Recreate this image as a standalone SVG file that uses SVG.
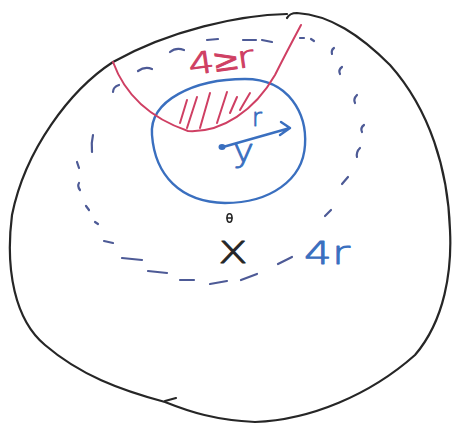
<svg xmlns="http://www.w3.org/2000/svg" width="452" height="426" viewBox="0 0 452 426">
<style>
  .ink{fill:none;stroke-linecap:round;stroke-linejoin:round}
  .black{stroke:#262626;stroke-width:2.2}
  .blue{stroke:#3a6fbf;stroke-width:2.4}
  .red{stroke:#cf3f63;stroke-width:2}
  .dash{stroke:#4d5a96;stroke-width:2.2}
  .lbl{font-family:"DejaVu Sans","Liberation Sans",Arial,sans-serif;font-weight:200;stroke-width:0.9;stroke-linejoin:round}
</style>
<rect width="452" height="426" fill="#ffffff"/>
<g id="outer-region">
  <path class="ink black" d="M287,14 C240,15 170,30 113,62 C70,90 25,150 12,215 C5,270 15,320 45,345 C80,375 120,390 165,402 C190,412 215,420 255,422 C310,420 370,395 415,355 C445,320 452,270 450,230 C448,170 430,110 390,65 C360,35 330,15 297,13 C292,13 289,14 287,18"/>
  <path class="ink black" d="M165,401 L176,398"/>
</g>
<g id="ball-4r">
  <path class="ink dash" d="M113,92 Q113,87 119,85 M138,71 Q145,66 152,69 M170,52 Q176,47 184,50 M207,40 L218,39 M243,40 L256,40 M262,40 L272,42 M300,38 L304,38 M311,39 L314,41 M334,48 Q331,50 332,54 M342,67 Q338,70 340,74 M357,95 Q353,99 355,103 M364,125 Q360,128 362,132 M360,148 Q356,152 357,157 M348,177 L342,184 M331,210 L325,216 M292,257 L278,264 M257,274 L241,280 M227,281 L210,284 M194,280 L180,280 M167,273 L148,271 M142,260 L122,258 M113,243 L104,241 M98,224 L95,222 M89,210 L86,206 M80,190 Q77,186 79,183 M79,168 L77,162 M92,152 Q91,143 93,135"/>
  <text class="lbl" x="304" y="264" font-size="32" fill="#3a6fbf" stroke="#3a6fbf" textLength="46" lengthAdjust="spacingAndGlyphs">4r</text>
</g>
<g id="ball-r">
  <path class="ink blue" d="M152,135 C149,100 195,79 245,79 C290,79 307,115 305,145 C303,180 270,203 225,203 C180,202 155,175 152,135 Z"/>
  <ellipse cx="222" cy="147" rx="3.5" ry="3" fill="#3a6fbf"/>
  <text class="lbl" x="233" y="162" font-size="32" fill="#3a6fbf" stroke="#3a6fbf" textLength="21" lengthAdjust="spacingAndGlyphs">y</text>
</g>
<g id="halfspace">
  <path class="ink red" d="M113,62 C125,95 150,118 188,131 C222,133 255,110 275,75 C285,55 293,40 301,25"/>
  <path class="ink red" d="M187,100 L180,123 M197,97 L187,128 M210,93 L200,128 M227,92 L217,123 M237,97 L230,113 M250,93 L240,110"/>
  <text class="lbl" x="188" y="71" font-size="30" fill="#cf3f63" stroke="#cf3f63" transform="rotate(-8 220 60)" textLength="66" lengthAdjust="spacingAndGlyphs">4≥r</text>
</g>
<g id="point-x">
  <ellipse cx="229.5" cy="218" rx="2.5" ry="4.2" class="ink" stroke="#262626" stroke-width="1.6"/>
  <path class="ink" stroke="#262626" stroke-width="1.4" d="M227,218 L232,218"/>
  <text class="lbl" x="218" y="263" font-size="40" fill="#262626" stroke="#262626" textLength="30" lengthAdjust="spacingAndGlyphs">x</text>
</g>
<g id="connectors">
  <path class="ink blue" d="M223,147 L290,128 M281,122 L290,128 L280,135"/>
  <text class="lbl" x="252" y="126" font-size="24" fill="#3a6fbf" stroke="#3a6fbf">r</text>
</g>
</svg>
